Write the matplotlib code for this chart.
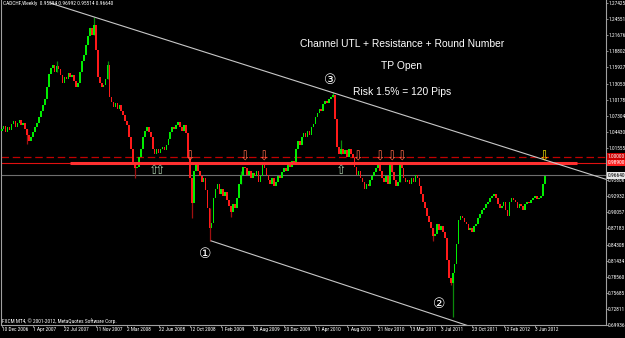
import matplotlib
matplotlib.use("Agg")
import matplotlib.pyplot as plt
from matplotlib import font_manager

# chart header / footer
symbol_info = "CADCHF,Weekly  0.95594 0.96992 0.95514 0.96640"
footer = "FXCM MT4, \u00a9 2001-2012, MetaQuotes Software Corp."

# weekly closes, one per bar starting 10 Dec 2006
closes = [
    1.050, 1.055, 1.044, 1.053, 1.048, 1.058, 1.064, 1.053, 1.060, 1.066,
    1.057, 1.060, 1.050, 1.039, 1.028, 1.035, 1.044, 1.053, 1.060, 1.071,
    1.082, 1.092, 1.103, 1.124, 1.147, 1.159, 1.163, 1.152, 1.161, 1.156,
    1.145, 1.131, 1.142, 1.138, 1.149, 1.142, 1.145, 1.135, 1.124, 1.131,
    1.152, 1.170, 1.182, 1.200, 1.216, 1.230, 1.218, 1.235, 1.191, 1.142,
    1.131, 1.124, 1.128, 1.138, 1.163, 1.106, 1.097, 1.089, 1.096, 1.085,
    1.092, 1.082, 1.074, 1.064, 1.057, 1.035, 1.014, 0.988, 0.979, 0.982,
    1.000, 1.014, 1.035, 1.046, 1.053, 1.044, 1.035, 1.014, 1.004, 1.014,
    1.007, 1.014, 1.018, 1.011, 1.021, 1.032, 1.044, 1.053, 1.050, 1.057,
    1.062, 1.053, 1.046, 1.057, 1.043, 1.000, 0.961, 0.917, 0.975, 0.986,
    0.975, 0.965, 0.954, 0.961, 0.940, 0.908, 0.873, 0.881, 0.926, 0.943,
    0.951, 0.933, 0.943, 0.929, 0.936, 0.922, 0.912, 0.901, 0.915, 0.908,
    0.926, 0.951, 0.968, 0.982, 0.979, 0.968, 0.975, 0.961, 0.970, 0.965,
    0.975, 0.954, 0.965, 0.988, 0.979, 0.968, 0.958, 0.951, 0.961, 0.947,
    0.954, 0.965, 0.961, 0.972, 0.979, 0.975, 0.986, 0.982, 0.993, 0.988,
    1.014, 1.028, 1.021, 1.035, 1.043, 1.035, 1.046, 1.039, 1.053, 1.058,
    1.071, 1.078, 1.085, 1.082, 1.094, 1.099, 1.096, 1.103, 1.106, 1.110,
    1.067, 1.018, 1.004, 1.014, 1.005, 1.011, 1.000, 1.014, 1.004, 0.997,
    0.982, 0.968, 0.975, 0.961, 0.954, 0.943, 0.951, 0.947, 0.958, 0.965,
    0.972, 0.979, 0.986, 0.975, 0.961, 0.954, 0.965, 0.951, 0.986, 0.972,
    0.958, 0.947, 0.954, 0.986, 0.979, 0.961, 0.954, 0.958, 0.951, 0.961,
    0.954, 0.968, 0.961, 0.947, 0.933, 0.919, 0.908, 0.894, 0.883, 0.873,
    0.858, 0.862, 0.880, 0.869, 0.876, 0.866, 0.855, 0.816, 0.784, 0.774,
    0.793, 0.809, 0.844, 0.887, 0.894, 0.890, 0.883, 0.880, 0.869, 0.873,
    0.866, 0.876, 0.880, 0.890, 0.897, 0.904, 0.908, 0.915, 0.919, 0.926,
    0.929, 0.933, 0.926, 0.915, 0.908, 0.912, 0.919, 0.904, 0.894, 0.919,
    0.926, 0.922, 0.919, 0.908, 0.915, 0.912, 0.904, 0.915, 0.919, 0.917,
    0.922, 0.926, 0.929, 0.924, 0.926, 0.929, 0.951, 0.966,
]
first_open = 1.046

# the wicks that stick out clearly
extra_highs = {28: 1.170, 47: 1.250, 54: 1.170, 122: 0.975, 169: 1.116,
               173: 1.030, 199: 0.990, 203: 0.990}
extra_lows = {13: 1.022, 68: 0.961, 97: 0.890, 106: 0.850, 117: 0.893,
              220: 0.850, 229: 0.770, 230: 0.713}

# time axis: one label every 16 bars
date_labels = ["10 Dec 2006", "1 Apr 2007", "22 Jul 2007", "11 Nov 2007",
               "2 Mar 2008", "22 Jun 2008", "12 Oct 2008", "1 Feb 2009",
               "30 Aug 2009", "20 Dec 2009", "11 Apr 2010", "1 Aug 2010",
               "21 Nov 2010", "13 Mar 2011", "3 Jul 2011", "23 Oct 2011",
               "12 Feb 2012", "3 Jun 2012"]
date_step = 16

price_ticks = [1.27425, 1.24551, 1.21676, 1.18802, 1.15927, 1.13053, 1.10178,
               1.07304, 1.04430, 1.01555, 0.98681, 0.95806, 0.92932, 0.90057,
               0.87183, 0.84308, 0.81434, 0.78560, 0.75685, 0.72811, 0.69936]
hidden_tick = 0.98681  # covered by the line labels in the original

# drawn objects
round_number = 1.0000
resistance = 0.9890
bid = 0.96640
resist_bars = [35, 293.5]
upper_channel_bars = [24.6, 308.3]
upper_channel_prices = [1.2744, 0.9594]
lower_channel_bars = [106.8, 240.0]
lower_channel_prices = [0.8496, 0.6956]
down_arrow_bars = [96, 124, 134, 182, 193, 199, 204]
up_arrow_bars = [78, 81, 173]
tp_arrow_bar = 277
wave_marks = ["\u2460", "\u2461", "\u2462"]
wave_bars = [103.7, 223.1, 167.8]
wave_prices = [0.8253, 0.7368, 1.1369]

notes = ["Channel UTL + Resistance + Round Number", "TP Open", "Risk 1.5% = 120 Pips"]
note_prices = [1.2018, 1.1616, 1.1146]
note_bar = 204

BULL, BEAR = "#00ee00", "#ff1a1a"
BULL_WICK, BEAR_WICK = "#0a8a0a", "#a01010"

# small narrow font for the MT4 scales, if one is installed
installed = {f.name for f in font_manager.fontManager.ttflist}
small_font, SMALL, PRICE = "Liberation Sans", 3.7, 3.3
for name in ["Liberation Sans Narrow", "DejaVu Sans Condensed", "Roboto Condensed"]:
    if name in installed:
        small_font, SMALL, PRICE = name, 3.9, 3.9
        break

fig = plt.figure(figsize=(6.25, 3.38), dpi=100, facecolor="black")
ax = fig.add_axes([1 / 625, 13 / 338, 605 / 625, 325 / 338])
ax.set_facecolor("black")

# candles
opens = [first_open] + closes[:-1]
xs, bottoms, heights, colors = [], [], [], []
for i, (o, c) in enumerate(zip(opens, closes)):
    lo_b, hi_b = min(o, c), max(o, c)
    up = c >= o
    hi = extra_highs.get(i, hi_b)
    lo = extra_lows.get(i, lo_b)
    if hi > hi_b or lo < lo_b:
        ax.vlines(i, lo, hi, color=BULL_WICK if up else BEAR_WICK, lw=0.9, zorder=2)
    xs.append(i)
    bottoms.append(lo_b)
    heights.append(max(hi_b - lo_b, 0.0018))
    colors.append(BULL if up else BEAR)
ax.bar(xs, heights, bottom=bottoms, width=0.85, color=colors, lw=0, zorder=3)

# horizontal levels
ax.axhline(round_number, color="#c00000", lw=0.9, ls=(0, (6, 3)), zorder=1)
ax.axhline(resistance, color="#e01010", lw=0.8, zorder=1)
ax.hlines(resistance, resist_bars[0], resist_bars[1], color="#ff3030", lw=2.2, zorder=4)
ax.axhline(bid, color="#6e6e6e", lw=0.8, zorder=1)

# channel lines
ax.plot(upper_channel_bars, upper_channel_prices, color="#c8c8c8", lw=0.8, zorder=5)
ax.plot(lower_channel_bars, lower_channel_prices, color="#c8c8c8", lw=0.8, zorder=5)

# arrows
arrow_font = ["DejaVu Sans"]
for b in down_arrow_bars:
    ax.text(b, resistance - 0.0015, "\u21e9", color="#ff6a4a", fontsize=9, ha="center",
            va="bottom", family=arrow_font, zorder=6)
for b in up_arrow_bars:
    ax.text(b, resistance - 0.003, "\u21e7", color="#a8c8a8", fontsize=9, ha="center",
            va="top", family=arrow_font, zorder=6)
ax.text(tp_arrow_bar, resistance - 0.0015, "\u21e9", color="#f0e000", fontsize=9.5,
        ha="center", va="bottom", family=arrow_font, zorder=6)

# wave counts
for m, b, p in zip(wave_marks, wave_bars, wave_prices):
    ax.text(b, p, m, color="white", fontsize=10, ha="center", va="center",
            family=["DejaVu Sans", "Noto Sans CJK JP"], zorder=6)

# notes
for n, p in zip(notes, note_prices):
    ax.text(note_bar, p, n, color="white", fontsize=7.4, ha="center", va="center",
            family=["Liberation Sans", "DejaVu Sans"], zorder=6)

# header / footer
ax.text(0.004, 0.997, symbol_info, transform=ax.transAxes, color="white",
        fontsize=SMALL, ha="left", va="top", family=small_font, zorder=6)
ax.text(0.002, 0.004, footer, transform=ax.transAxes, color="white",
        fontsize=SMALL, ha="left", va="bottom", family=small_font, zorder=6)

# axes
ax.set_xlim(-0.357, 308.2)
ax.set_ylim(0.7045, 1.2797)
ax.yaxis.tick_right()
ax.set_yticks(price_ticks)
ax.set_yticklabels(["" if t == hidden_tick else "%.5f" % t for t in price_ticks],
                   family=small_font, fontsize=PRICE)
ax.set_xticks(range(0, date_step * len(date_labels), date_step))
ax.set_xticklabels(date_labels, ha="left", family=small_font, fontsize=SMALL)
ax.tick_params(axis="both", colors="#a0a0a0", labelcolor="white",
               length=1.2, width=0.6, pad=0.4)
for s in ["right", "bottom", "left"]:
    ax.spines[s].set_color("#a0a0a0")
    ax.spines[s].set_linewidth(0.8)
ax.spines["top"].set_visible(False)

# price boxes on the right scale
ytr = ax.get_yaxis_transform()
box_x = 1.0 + 2.0 / 605
for level, fc, tc in [(round_number, "#d00000", "white"),
                      (resistance, "#ff2020", "white"),
                      (bid, "#e8e8e8", "black")]:
    ax.text(box_x, level, "%.5f" % level, transform=ytr, color=tc,
            fontsize=PRICE, ha="left", va="center", family=small_font,
            clip_on=False, zorder=10,
            bbox=dict(boxstyle="square,pad=0.12", fc=fc, ec="none"))

fig.savefig("out.png", dpi=100, facecolor="black")
